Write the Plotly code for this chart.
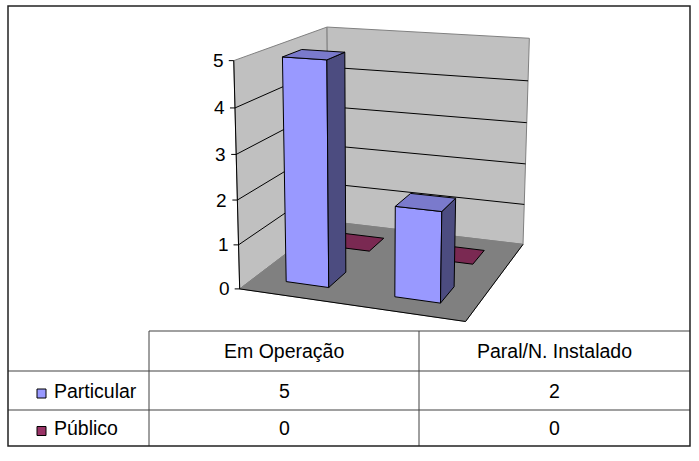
import numpy as np
import plotly.graph_objects as go

# ---------------- data ----------------
categories = ["Em Operação", "Paral/N. Instalado"]
series_names = ["Particular", "Público"]
particular_values = [5, 2]
publico_values = [0, 0]
value_ticks = [0, 1, 2, 3, 4, 5]
series_colors = ["#9999FF", "#993366"]

series_values = [particular_values, publico_values]

# ---------------- layout constants ----------------
W, H = 699, 461
FONT = "Arial, 'Liberation Sans', sans-serif"
FS_TABLE = 19.5
FS_AXIS = 19
n_cat = len(categories)
n_ser = len(series_names)
vmax = value_ticks[-1]
C, D = float(n_cat), float(n_ser)
BAR_FRAC = 0.4  # Excel gap width / gap depth 150 %

# camera (3D model -> screen) fitted to the corners of the reference plot box
box_model = np.array([[0, 0, 0], [0, vmax, 0], [0, 0, D], [0, vmax, D],
                      [C, 0, D], [C, vmax, D], [C, 0, 0]], float)
box_screen = np.array([[240, 289], [233, 61], [328, 221], [328, 27],
                       [523, 245], [529, 38], [466, 321]], float)


def fit_camera(Xm, uv):
    mX = Xm.mean(0)
    sX = np.sqrt(((Xm - mX) ** 2).sum(1).mean() / 3)
    mu = uv.mean(0)
    su = np.sqrt(((uv - mu) ** 2).sum(1).mean() / 2)
    Tm = np.eye(4); Tm[:3, :3] /= sX; Tm[:3, 3] = -mX / sX
    Tu = np.eye(3); Tu[:2, :2] /= su; Tu[:2, 2] = -mu / su
    Xn = (Xm - mX) / sX
    un = (uv - mu) / su
    A = []
    for (X, Y, Z), (u, v) in zip(Xn, un):
        A.append([X, Y, Z, 1, 0, 0, 0, 0, -u * X, -u * Y, -u * Z, -u])
        A.append([0, 0, 0, 0, X, Y, Z, 1, -v * X, -v * Y, -v * Z, -v])
    _, _, Vt = np.linalg.svd(np.array(A))
    Pn = Vt[-1].reshape(3, 4)
    return np.linalg.inv(Tu) @ Pn @ Tm


P = fit_camera(box_model, box_screen)


def proj(pts):
    pts = np.atleast_2d(np.asarray(pts, float))
    h = np.c_[pts, np.ones(len(pts))] @ P.T
    return h[:, 0] / h[:, 2], h[:, 1] / h[:, 2]


fig = go.Figure()


def poly(pts, fill, line_color, lw=1.0):
    xs, ys = proj(pts)
    xs = list(xs) + [xs[0]]
    ys = list(ys) + [ys[0]]
    fig.add_trace(go.Scatter(x=xs, y=ys, mode="lines", fill="toself", fillcolor=fill,
                             line=dict(color=line_color, width=lw),
                             hoverinfo="skip", showlegend=False))


def path(pts, color, lw=1.0):
    xs, ys = proj(pts)
    fig.add_trace(go.Scatter(x=list(xs), y=list(ys), mode="lines",
                             line=dict(color=color, width=lw),
                             hoverinfo="skip", showlegend=False))


def shade(hexcol, f):
    h = hexcol.lstrip("#")
    r, g, b = (int(h[i:i + 2], 16) for i in (0, 2, 4))
    return "rgb(%d,%d,%d)" % (round(r * f), round(g * f), round(b * f))


# walls and floor
poly([(0, 0, 0), (0, vmax, 0), (0, vmax, D), (0, 0, D)], "#C0C0C0", "#808080")
poly([(0, 0, D), (0, vmax, D), (C, vmax, D), (C, 0, D)], "#C0C0C0", "#808080")
poly([(0, 0, 0), (C, 0, 0), (C, 0, D), (0, 0, D)], "#808080", "#808080")
path([(0, 0, 0), (C, 0, 0), (C, 0, D)], "black")

# gridlines
for k in value_ticks[1:-1]:
    path([(0, k, 0), (0, k, D), (C, k, D)], "black")

# value axis
path([(0, 0, 0), (0, vmax, 0)], "black")
annotations = []
shapes = []
for k in value_ticks:
    u, v = proj([(0, k, 0)])
    u, v = float(u[0]), float(v[0])
    shapes.append(dict(type="line", xref="x", yref="y", x0=u - 5, x1=u, y0=v, y1=v,
                       line=dict(color="black", width=1)))
    annotations.append(dict(x=u - 8, y=v, xref="x", yref="y", text=str(k),
                            showarrow=False, xanchor="right", yanchor="middle",
                            font=dict(family=FONT, size=FS_AXIS, color="black")))

# bars: back row first, left to right
half = BAR_FRAC / 2
for s in reversed(range(n_ser)):
    base = series_colors[s]
    for c in range(n_cat):
        val = series_values[s][c]
        x0, x1 = c + 0.5 - half, c + 0.5 + half
        z0, z1 = s + 0.5 - half, s + 0.5 + half
        if val > 0:
            poly([(x0, 0, z0), (x1, 0, z0), (x1, val, z0), (x0, val, z0)], base, "black")
            poly([(x1, 0, z0), (x1, 0, z1), (x1, val, z1), (x1, val, z0)], shade(base, 0.5), "black")
        poly([(x0, val, z0), (x1, val, z0), (x1, val, z1), (x0, val, z1)], shade(base, 0.8), "black")

# ---------------- data table ----------------
T_TOP, R1, R2, T_BOT = 331, 371, 410, 446
T_LEFT, COL1, COL2, T_RIGHT = 8, 149, 419, 690
BORDER_TOP = 6
line_gray = dict(color="#808080", width=1.5)
line_dark = dict(color="#404040", width=1)
shapes += [
    dict(type="line", xref="x", yref="y", x0=COL1, x1=T_RIGHT, y0=T_TOP, y1=T_TOP, line=line_gray),
    dict(type="line", xref="x", yref="y", x0=T_LEFT, x1=T_RIGHT, y0=R1, y1=R1, line=line_gray),
    dict(type="line", xref="x", yref="y", x0=T_LEFT, x1=T_RIGHT, y0=R2, y1=R2, line=line_gray),
    dict(type="line", xref="x", yref="y", x0=COL1, x1=COL1, y0=T_TOP, y1=T_BOT, line=line_dark),
    dict(type="line", xref="x", yref="y", x0=COL2, x1=COL2, y0=T_TOP, y1=T_BOT, line=line_dark),
    dict(type="rect", xref="x", yref="y", x0=T_LEFT, x1=T_RIGHT, y0=BORDER_TOP, y1=T_BOT,
         line=dict(color="#222222", width=1.5)),
]
col_centers = [(COL1 + COL2) / 2, (COL2 + T_RIGHT) / 2]
row_centers = [(R1 + R2) / 2, (R2 + T_BOT) / 2]
for ci, cat in enumerate(categories):
    annotations.append(dict(x=col_centers[ci], y=(T_TOP + R1) / 2, xref="x", yref="y", text=cat,
                            showarrow=False, xanchor="center", yanchor="middle",
                            font=dict(family=FONT, size=FS_TABLE, color="black")))
for s, name in enumerate(series_names):
    yc = row_centers[s]
    shapes.append(dict(type="rect", xref="x", yref="y", x0=37, x1=46, y0=yc - 1.5, y1=yc + 7.5,
                       fillcolor=series_colors[s], line=dict(color="black", width=1)))
    annotations.append(dict(x=52, y=yc, xref="x", yref="y", text=name, showarrow=False,
                            xanchor="left", yanchor="middle",
                            font=dict(family=FONT, size=FS_TABLE, color="black")))
    for ci in range(n_cat):
        annotations.append(dict(x=col_centers[ci], y=yc, xref="x", yref="y",
                                text=str(series_values[s][ci]), showarrow=False,
                                xanchor="center", yanchor="middle",
                                font=dict(family=FONT, size=FS_TABLE, color="black")))

fig.update_layout(
    width=W, height=H, margin=dict(l=0, r=0, t=0, b=0),
    paper_bgcolor="white", plot_bgcolor="white",
    xaxis=dict(range=[0, W], visible=False, fixedrange=True),
    yaxis=dict(range=[H, 0], visible=False, fixedrange=True),
    shapes=shapes, annotations=annotations, hovermode=False, showlegend=False,
)
fig.write_html("out.html", config={"displayModeBar": False},
               post_script="document.body.style.margin='0';document.body.style.overflow='hidden';")
